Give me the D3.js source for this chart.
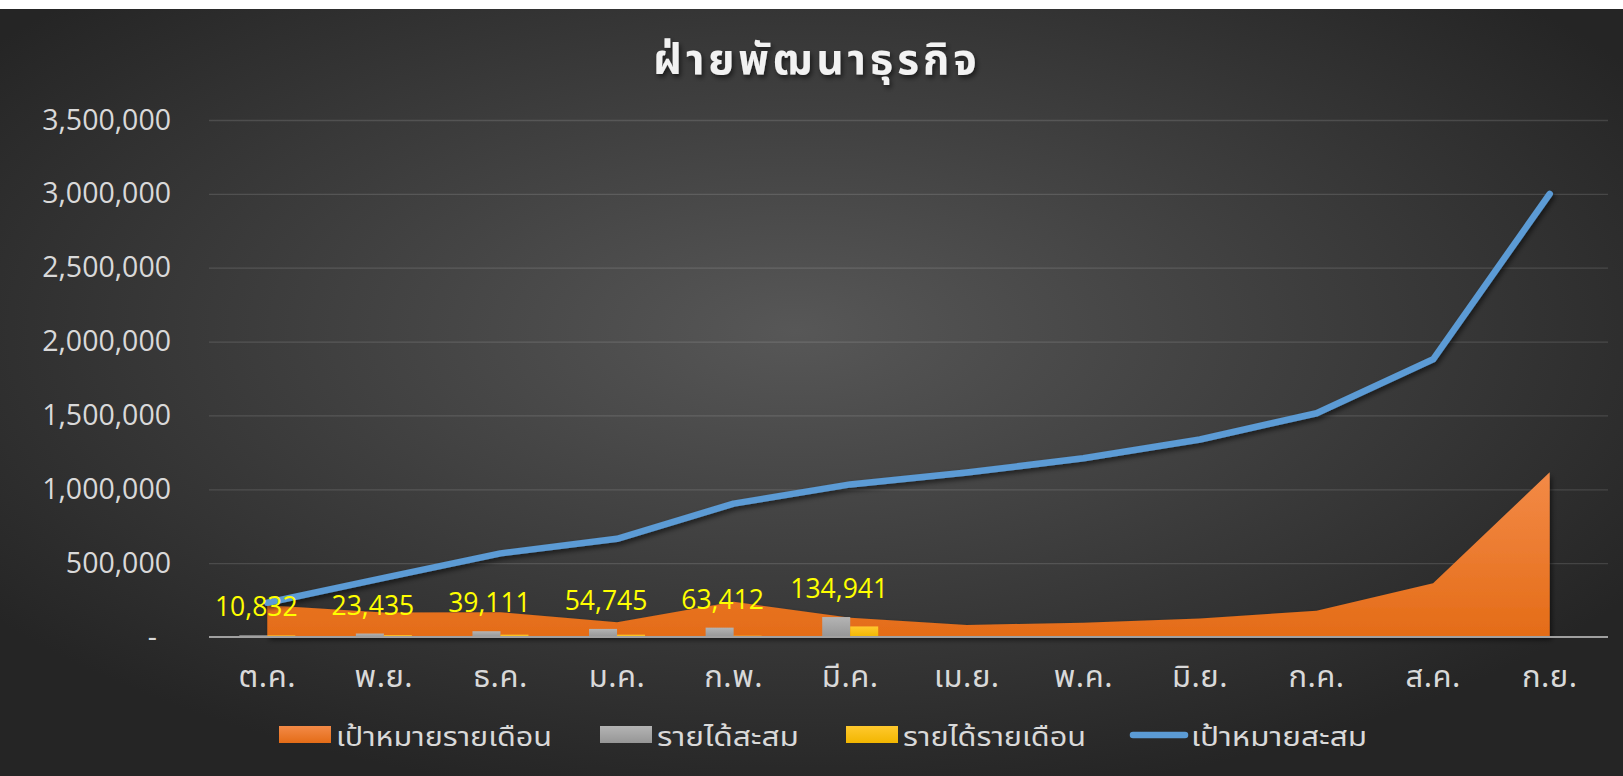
<!DOCTYPE html>
<html lang="th">
<head>
<meta charset="UTF-8">
<title>ฝ่ายพัฒนาธุรกิจ</title>
<script src="https://cdn.jsdelivr.net/npm/d3@7"></script>
<style>
    html, body { margin: 0; padding: 0; background: #fff; }
    svg { display: block; }
    .thai { font-family: "Noto Sans Thai", "Leelawadee UI", Tahoma, "DejaVu Sans", sans-serif; }
    .num { font-family: "Open Sans", "Liberation Sans", sans-serif; }
</style>
</head>
<body>
<div id="root"></div>
<script>
    // data
    let months = ["ต.ค.", "พ.ย.", "ธ.ค.", "ม.ค.", "ก.พ.", "มี.ค.", "เม.ย.", "พ.ค.", "มิ.ย.", "ก.ค.", "ส.ค.", "ก.ย."]
    let monthlyTarget = [215000, 166000, 168000, 100000, 238000, 130000, 82000, 96000, 126000, 178000, 364000, 1115000]
    let cumTarget = [232000, 400000, 566000, 665000, 903000, 1033000, 1113000, 1210000, 1337000, 1515000, 1880000, 3000000]
    let cumRevenue = [10832, 23435, 39111, 54745, 63412, 134941]
    let monthlyRevenue = [10832, 12603, 15676, 15634, 8667, 71529]
    let yTicks = [0, 500000, 1000000, 1500000, 2000000, 2500000, 3000000, 3500000]
    let legendNames = ["เป้าหมายรายเดือน", "รายได้สะสม", "รายได้รายเดือน", "เป้าหมายสะสม"]

    let width = 1623, height = 776
    let plotLeft = 209, plotRight = 1608, plotTop = 120, plotBottom = 637

    let svg = d3.select("#root").append("svg").attr("width", width).attr("height", height)
    let defs = svg.append("defs")

    let bg = defs.append("radialGradient").attr("id", "bg")
        .attr("cx", "49%").attr("cy", "42%").attr("r", "62%")
    bg.append("stop").attr("offset", "0%").attr("stop-color", "#575757")
    bg.append("stop").attr("offset", "100%").attr("stop-color", "#252525")

    function vgrad(id, c1, c2) {
        let g = defs.append("linearGradient").attr("id", id).attr("x1", 0).attr("x2", 0).attr("y1", 0).attr("y2", 1)
        g.append("stop").attr("offset", "0%").attr("stop-color", c1)
        g.append("stop").attr("offset", "100%").attr("stop-color", c2)
    }
    vgrad("gOrange", "#f38a47", "#e46c17")
    vgrad("gGray", "#b4b4b4", "#969696")
    vgrad("gYellow", "#ffc92e", "#f2b600")

    let sh = defs.append("filter").attr("id", "shadow").attr("x", "-20%").attr("y", "-20%").attr("width", "140%").attr("height", "140%")
    sh.append("feDropShadow").attr("dx", 2).attr("dy", 3).attr("stdDeviation", 2.5).attr("flood-color", "#000").attr("flood-opacity", 0.55)

    svg.append("rect").attr("x", 0).attr("y", 9).attr("width", width).attr("height", height - 9).attr("fill", "url(#bg)")

    // title
    svg.append("text").attr("class", "thai")
        .attr("x", 817).attr("y", 74)
        .attr("text-anchor", "middle")
        .attr("font-size", 42).attr("font-weight", "bold")
        .attr("letter-spacing", 4)
        .attr("fill", "#f2f2f2")
        .attr("filter", "url(#shadow)")
        .text("ฝ่ายพัฒนาธุรกิจ")

    let x = d3.scaleBand().domain(months).range([plotLeft, plotRight])
    let y = d3.scaleLinear().domain([0, 3500000]).range([plotBottom, plotTop])
    let sub = d3.scaleBand().domain(["cum", "mon"]).range([-28, 28])
    let cx = m => x(m) + x.bandwidth() / 2

    // y axis with grid lines
    let yAxis = d3.axisLeft(y).tickValues(yTicks)
        .tickSize(-(plotRight - plotLeft)).tickPadding(38)
        .tickFormat(d => d === 0 ? "-" : d3.format(",")(d))
    let ga = svg.append("g").attr("transform", "translate(" + plotLeft + ",0)").call(yAxis)
    ga.select(".domain").remove()
    ga.selectAll(".tick line").attr("stroke", "#ffffff").attr("stroke-opacity", 0.13).attr("stroke-width", 1.3)
    ga.selectAll(".tick text").attr("class", "num").attr("fill", "#d9d9d9").attr("font-size", 28.5)
    ga.selectAll(".tick").filter(d => d === 0).select("text").attr("dx", -14)
    ga.selectAll(".tick").filter(d => d === 0).select("line").remove()

    // area: monthly target
    let area = d3.area().x((d, i) => cx(months[i])).y0(y(0)).y1(d => y(d))
    svg.append("path").datum(monthlyTarget)
        .attr("d", area).attr("fill", "url(#gOrange)")
        .attr("filter", "url(#shadow)")

    // bars
    let bars = svg.append("g")
    bars.selectAll(".cum").data(cumRevenue).join("rect")
        .attr("x", (d, i) => cx(months[i]) + sub("cum"))
        .attr("width", sub.bandwidth())
        .attr("y", d => y(d)).attr("height", d => y(0) - y(d))
        .attr("fill", "url(#gGray)")
    bars.selectAll(".mon").data(monthlyRevenue).join("rect")
        .attr("x", (d, i) => cx(months[i]) + sub("mon"))
        .attr("width", sub.bandwidth())
        .attr("y", d => y(d)).attr("height", d => y(0) - y(d))
        .attr("fill", "url(#gYellow)")

    // zero axis line
    svg.append("line").attr("x1", plotLeft).attr("x2", plotRight).attr("y1", y(0)).attr("y2", y(0))
        .attr("stroke", "#a0a0a0").attr("stroke-width", 2.2)

    // line: cumulative target
    let line = d3.line().x((d, i) => cx(months[i])).y(d => y(d))
    svg.append("path").datum(cumTarget)
        .attr("d", line).attr("fill", "none")
        .attr("stroke", "#5b9bd5").attr("stroke-width", 6.5)
        .attr("stroke-linecap", "round").attr("stroke-linejoin", "round")
        .attr("filter", "url(#shadow)")

    // data labels
    svg.append("g").selectAll("text").data(cumRevenue).join("text")
        .attr("class", "num")
        .attr("x", (d, i) => cx(months[i]) - 11)
        .attr("y", d => y(d) - 19)
        .attr("text-anchor", "middle")
        .attr("font-size", 26.5).attr("fill", "#ffff00")
        .text(d => d3.format(",")(d))

    // x axis labels
    let xAxis = d3.axisBottom(x).tickSize(0).tickPadding(28)
    let gx = svg.append("g").attr("transform", "translate(0," + plotBottom + ")").call(xAxis)
    gx.select(".domain").remove()
    gx.selectAll(".tick text").attr("class", "thai").attr("fill", "#d9d9d9")
        .attr("font-size", 31).attr("letter-spacing", 0.5)

    // legend
    let lg = svg.append("g").attr("class", "thai")
    let swatchX = [279, 600, 846]
    let textWidths = [216, 142, 183, 176]
    let fills = ["url(#gOrange)", "url(#gGray)", "url(#gYellow)"]
    swatchX.forEach((sx, i) => {
        lg.append("rect").attr("x", sx).attr("y", 726).attr("width", 52).attr("height", 17).attr("fill", fills[i])
        lg.append("text").attr("x", sx + 57).attr("y", 746).attr("font-size", 27).attr("fill", "#d9d9d9")
            .attr("textLength", textWidths[i]).attr("lengthAdjust", "spacingAndGlyphs")
            .text(legendNames[i])
    })
    lg.append("line").attr("x1", 1133).attr("x2", 1185).attr("y1", 735).attr("y2", 735)
        .attr("stroke", "#5b9bd5").attr("stroke-width", 6.5).attr("stroke-linecap", "round")
    lg.append("text").attr("x", 1191).attr("y", 746).attr("font-size", 27).attr("fill", "#d9d9d9")
        .attr("textLength", textWidths[3]).attr("lengthAdjust", "spacingAndGlyphs")
        .text(legendNames[3])
</script>
</body>
</html>
